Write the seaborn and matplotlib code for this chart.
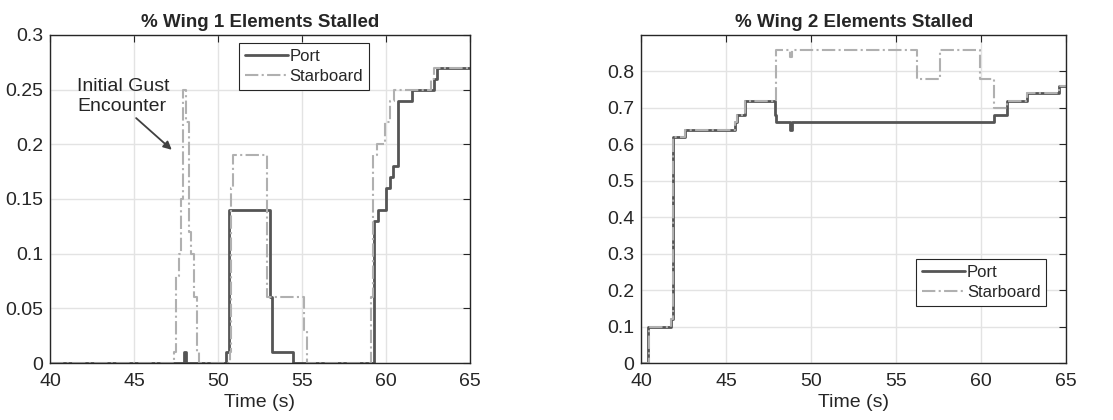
import pandas as pd
import matplotlib.pyplot as plt
import seaborn as sns

# change points (time in s, fraction stalled), drawn as steps
w1_port_t = [40, 48.0, 48.1, 50.5, 50.65, 53.1, 53.25, 54.5, 59.3, 59.55, 60.0,
             60.25, 60.45, 60.72, 61.55, 62.85, 63.05, 65]
w1_port_v = [0, 0.01, 0, 0.01, 0.14, 0.06, 0.01, 0, 0.13, 0.14, 0.16,
             0.17, 0.18, 0.24, 0.25, 0.26, 0.27, 0.27]

w1_stbd_t = [40, 47.4, 47.5, 47.7, 47.8, 47.9, 48.1, 48.25, 48.4, 48.6, 48.75, 48.85,
             50.7, 50.78, 50.92, 52.95, 55.1, 55.3, 59.1, 59.22, 59.45, 59.97,
             60.25, 60.5, 62.7, 62.85, 65]
w1_stbd_v = [0, 0.01, 0.08, 0.1, 0.15, 0.25, 0.22, 0.12, 0.1, 0.06, 0.01, 0,
             0.01, 0.16, 0.19, 0.06, 0.03, 0, 0.06, 0.19, 0.2, 0.22,
             0.24, 0.25, 0.26, 0.27, 0.27]

w2_port_t = [40, 40.42, 41.75, 41.85, 42.6, 45.5, 45.65, 46.12, 47.85, 47.95,
             48.75, 48.85, 60.78, 61.5, 62.72, 64.6, 65]
w2_port_v = [0, 0.1, 0.12, 0.62, 0.64, 0.66, 0.68, 0.72, 0.68, 0.66,
             0.64, 0.66, 0.68, 0.72, 0.74, 0.76, 0.76]

w2_stbd_t = [40, 40.45, 41.75, 41.85, 42.6, 45.5, 45.65, 46.12, 47.95, 48.75, 48.85,
             56.25, 57.55, 59.95, 60.75, 61.5, 62.72, 64.6, 65]
w2_stbd_v = [0, 0.1, 0.12, 0.62, 0.64, 0.66, 0.68, 0.72, 0.86, 0.84, 0.86,
             0.78, 0.86, 0.78, 0.70, 0.72, 0.74, 0.76, 0.76]

sns.set_style('white')
plt.rcParams['font.family'] = ['Liberation Sans', 'DejaVu Sans']

fig = plt.figure(figsize=(11.13, 4.2), dpi=100)
ax1 = fig.add_axes([0.045, 0.1357, 0.377, 0.781])
ax2 = fig.add_axes([0.576, 0.1357, 0.382, 0.781])

port_c = '#555555'
stbd_c = '#b0b0b0'


def draw(ax, pt, pv, st, sv, title, ylim, yticks, legend_loc):
    port = pd.DataFrame({'t': pt, 'v': pv})
    stbd = pd.DataFrame({'t': st, 'v': sv})
    sns.lineplot(data=port, x='t', y='v', ax=ax, estimator=None, sort=False,
                 drawstyle='steps-post', color=port_c, lw=2.0, label='Port')
    sns.lineplot(data=stbd, x='t', y='v', ax=ax, estimator=None, sort=False,
                 drawstyle='steps-post', color=stbd_c, lw=1.5, ls='-.', label='Starboard')
    ax.set_xlim(40, 65)
    ax.set_ylim(*ylim)
    ax.set_xticks([40, 45, 50, 55, 60, 65])
    ax.set_yticks(yticks)
    ax.set_yticklabels([('%g' % y) for y in yticks])
    ax.grid(True, color='#e3e3e3', lw=1)
    ax.set_axisbelow(True)
    ax.tick_params(direction='in', top=True, right=True, length=5, width=0.8,
                   color='#262626', labelsize=14, labelcolor='#262626')
    ax.tick_params(axis='x', pad=7)
    ax.tick_params(axis='y', pad=5)
    for s in ax.spines.values():
        s.set_color('#262626')
        s.set_linewidth(1.0)
    ax.set_title(title, fontsize=13.5, fontweight='bold', pad=6)
    ax.set_xlabel('Time (s)', fontsize=14, color='#262626', labelpad=3)
    ax.set_ylabel('')
    leg = ax.legend(loc='upper left', bbox_to_anchor=legend_loc, fontsize=12,
                    fancybox=False, framealpha=1, edgecolor='#262626',
                    handlelength=2.6, handletextpad=0.1, borderpad=0.35,
                    labelspacing=0.3, borderaxespad=0)
    leg.get_frame().set_linewidth(0.8)


draw(ax1, w1_port_t, w1_port_v, w1_stbd_t, w1_stbd_v,
     '% Wing 1 Elements Stalled', (0, 0.3),
     [0, 0.05, 0.1, 0.15, 0.2, 0.25, 0.3], (0.45, 0.976))
draw(ax2, w2_port_t, w2_port_v, w2_stbd_t, w2_stbd_v,
     '% Wing 2 Elements Stalled', (0, 0.9),
     [0, 0.1, 0.2, 0.3, 0.4, 0.5, 0.6, 0.7, 0.8], (0.647, 0.317))

ax1.annotate('Initial Gust\nEncounter', xy=(47.25, 0.195), xytext=(41.6, 0.227),
             fontsize=14, color='#262626', ha='left', va='bottom',
             multialignment='left', linespacing=1.25,
             arrowprops=dict(arrowstyle='-|>', color='#404040', lw=1.3,
                             mutation_scale=12, shrinkA=0, shrinkB=0,
                             relpos=(0.6, 0.0)))

fig.savefig('out.png', dpi=100)
